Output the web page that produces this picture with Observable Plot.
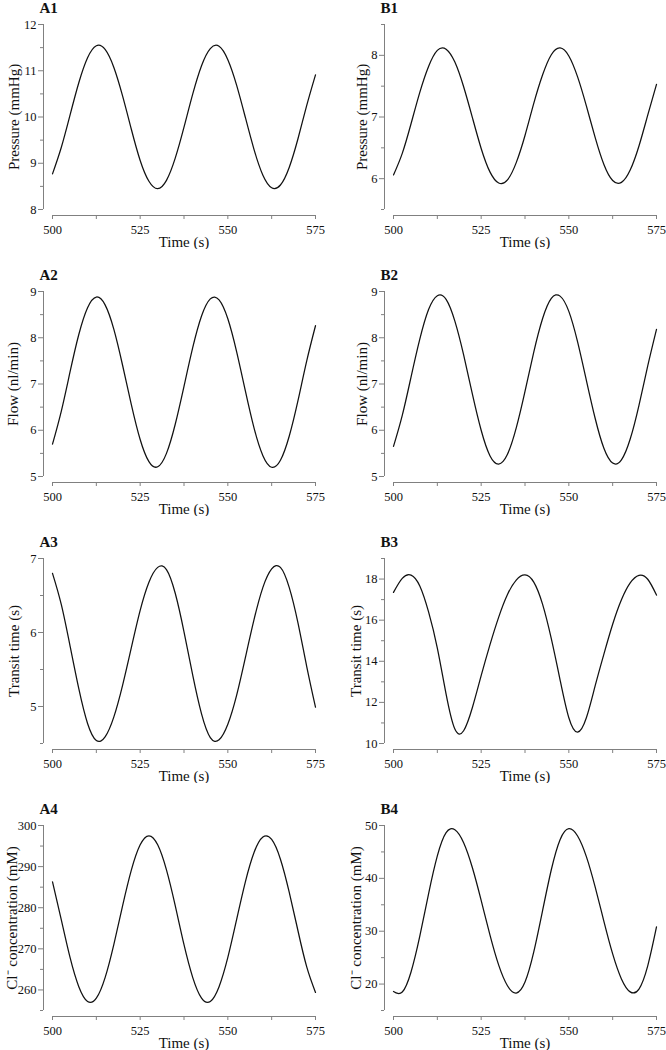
<!DOCTYPE html>
<html><head><meta charset="utf-8">
<script src="https://cdn.jsdelivr.net/npm/d3@7"></script>
<script src="https://cdn.jsdelivr.net/npm/@observablehq/plot@0.6"></script>
<style>
html,body{margin:0;padding:0;background:#fff;overflow:hidden;}
#chart{position:relative;width:666px;height:1050px;}
#chart svg{position:absolute;}
</style></head><body><div id="chart"></div>
<script>
// Time samples (s)
const time = [500,502.5,505,507.5,510,512.5,515,517.5,520,522.5,525,527.5,530,532.5,535,537.5,540,542.5,545,547.5,550,552.5,555,557.5,560,562.5,565,567.5,570,572.5,575];

// Series values
const pressureA = [8.77,9.34,10.04,10.74,11.28,11.54,11.46,11.07,10.45,9.73,9.06,8.61,8.45,8.63,9.11,9.78,10.50,11.11,11.48,11.53,11.24,10.69,9.99,9.29,8.74,8.47,8.53,8.91,9.53,10.25,10.91];
const pressureB = [6.06,6.41,6.89,7.40,7.82,8.08,8.10,7.89,7.49,6.99,6.49,6.11,5.93,5.98,6.26,6.70,7.22,7.68,8.01,8.12,7.99,7.65,7.18,6.67,6.23,5.97,5.94,6.14,6.53,7.03,7.53];
const flowA = [5.70,6.41,7.26,8.07,8.65,8.88,8.71,8.18,7.40,6.55,5.80,5.32,5.21,5.50,6.13,6.95,7.79,8.47,8.84,8.82,8.41,7.70,6.85,6.04,5.45,5.20,5.35,5.87,6.64,7.50,8.26];
const flowB = [5.65,6.32,7.15,7.97,8.61,8.91,8.83,8.36,7.63,6.78,6.00,5.45,5.27,5.48,6.05,6.84,7.69,8.41,8.85,8.90,8.57,7.91,7.08,6.26,5.61,5.29,5.36,5.81,6.54,7.39,8.18];
const transitA = [6.80,6.38,5.82,5.24,4.77,4.54,4.59,4.86,5.29,5.80,6.30,6.68,6.88,6.85,6.53,6.01,5.42,4.90,4.58,4.55,4.76,5.15,5.66,6.18,6.61,6.86,6.88,6.61,6.13,5.54,4.99];
const transitB = [17.35,18.03,18.19,17.66,16.40,14.64,12.40,10.70,10.62,11.75,13.30,14.80,16.15,17.25,17.95,18.20,17.85,16.78,15.10,13.10,11.25,10.55,11.25,12.80,14.35,15.80,16.99,17.81,18.18,17.99,17.22];
const chlorideA = [286.3,277.1,267.9,260.8,257.2,258.0,263.0,271.1,280.5,289.2,295.3,297.5,295.3,289.2,280.5,271.0,263.0,258.0,257.2,260.8,267.9,277.1,286.3,293.5,297.2,296.6,291.8,283.8,274.4,265.6,259.4];
const chlorideB = [18.6,18.5,22.29,29.05,37.08,44.25,48.64,49.18,46.73,42.00,35.83,29.30,23.58,19.68,18.30,20.38,26.08,33.85,41.63,47.32,49.40,48.02,44.12,38.40,31.87,25.70,20.97,18.52,19.06,23.45,30.80];

// Tick values
const xMajor = [500,525,550,575];
const xMinor = [512.5,537.5,562.5];
const xDomain = [500,575];
const xLabel = "Time (s)";

const panels = [
  {id:"A1", col:0, row:0, values:pressureA, label:"Pressure (mmHg)", domain:[8,12], major:[8,9,10,11,12], minor:[8.5,9.5,10.5,11.5], ldx:-29},
  {id:"B1", col:1, row:0, values:pressureB, label:"Pressure (mmHg)", domain:[5.5,8.5], major:[6,7,8], minor:[5.5,6.5,7.5,8.5], ldx:-22},
  {id:"A2", col:0, row:1, values:flowA, label:"Flow (nl/min)", domain:[5,9], major:[5,6,7,8,9], minor:[5.5,6.5,7.5,8.5], ldx:-30},
  {id:"B2", col:1, row:1, values:flowB, label:"Flow (nl/min)", domain:[5,9], major:[5,6,7,8,9], minor:[5.5,6.5,7.5,8.5], ldx:-22},
  {id:"A3", col:0, row:2, values:transitA, label:"Transit time (s)", domain:[4.5,7], major:[5,6,7], minor:[4.5,5.5,6.5], ldx:-29},
  {id:"B3", col:1, row:2, values:transitB, label:"Transit time (s)", domain:[10,19], major:[10,12,14,16,18], minor:[11,13,15,17,19], ldx:-28},
  {id:"A4", col:0, row:3, values:chlorideA, label:"Cl\u207B concentration (mM)", domain:[255,300], major:[260,270,280,290,300], minor:[255,265,275,285,295], ldx:-31},
  {id:"B4", col:1, row:3, values:chlorideB, label:"Cl\u207B concentration (mM)", domain:[15,50], major:[20,30,40,50], minor:[15,25,35,45], ldx:-28}
];

const gray = "#808080";
const chart = document.getElementById("chart");

for (const p of panels) {
  const W = p.col === 0 ? 333 : 325;
  const data = time.map((t, i) => ({t, v: p.values[i]}));
  const svg = Plot.plot({
    width: W,
    height: 249,
    marginTop: 24,
    marginLeft: 43,
    marginRight: W - 315,
    marginBottom: 34,
    style: {fontFamily: "'Liberation Serif', 'Times New Roman', serif", fontSize: "12.5px", background: "transparent", color: "#111"},
    x: {domain: xDomain, insetLeft: 9, label: null},
    y: {domain: p.domain, insetBottom: 6, label: null},
    marks: [
      Plot.ruleX([xDomain[0]], {x: d => d, y1: p.domain[0], y2: p.domain[1], dx: -9, stroke: gray, strokeWidth: 1}),
      Plot.ruleY([p.domain[0]], {y: d => d, x1: xDomain[0], x2: xDomain[1], dy: 6, stroke: gray, strokeWidth: 1}),
      Plot.axisX(xMajor, {tickSize: 4, tickPadding: 6, stroke: gray, label: null, fontSize: 12.5, tickFormat: d => `${d}`}),
      Plot.axisX(xMinor, {tickSize: 4, tickFormat: () => "", stroke: gray, label: null}),
      Plot.axisY(p.major, {tickSize: 5, tickPadding: 2, stroke: gray, label: null, fontSize: 12.5, tickFormat: d => `${d}`}),
      Plot.axisY(p.minor, {tickSize: 3, tickFormat: () => "", stroke: gray, label: null}),
      Plot.line(data, {x: "t", y: "v", curve: "natural", stroke: "#111", strokeWidth: 1.25}),
      Plot.text([p.id], {text: d => d, frameAnchor: "top-left", dx: -4, dy: -16, textAnchor: "start", lineAnchor: "middle", fontWeight: "bold", fontSize: 15, fill: "#111"}),
      Plot.text([p.label], {text: d => d, frameAnchor: "left", rotate: -90, dx: p.ldx, dy: -3, textAnchor: "middle", lineAnchor: "middle", fontSize: 15, fill: "#111"}),
      Plot.text([xLabel], {text: d => d, frameAnchor: "bottom", dx: 4.5, dy: 27, textAnchor: "middle", lineAnchor: "middle", fontSize: 15, fill: "#111"})
    ]
  });
  svg.style.left = (p.col === 0 ? 0 : 341) + "px";
  svg.style.top = (p.row * 267) + "px";
  chart.appendChild(svg);
}
</script>
</body></html>
